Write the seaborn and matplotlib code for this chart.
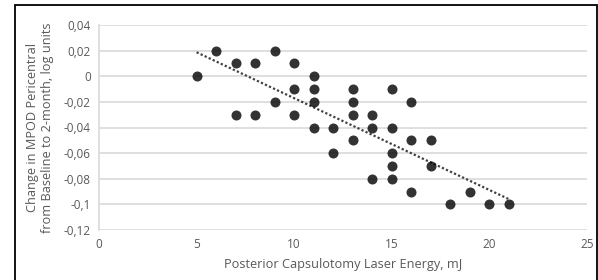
import numpy as np
import pandas as pd
import seaborn as sns
import matplotlib.pyplot as plt
from matplotlib.patches import Rectangle

# laser energy (mJ) and change in MPOD (log units)
energy = [5, 6, 7, 7, 8, 8, 9, 9, 10, 10, 10, 11, 11, 11, 11, 12, 12,
          13, 13, 13, 13, 14, 14, 14, 15, 15, 15, 15, 15, 16, 16, 16,
          17, 17, 18, 19, 20, 21]
mpod_change = [0, 0.02, 0.01, -0.03, 0.01, -0.03, 0.02, -0.02, 0.01, -0.01, -0.03,
               0, -0.01, -0.02, -0.04, -0.04, -0.06,
               -0.01, -0.02, -0.03, -0.05, -0.03, -0.04, -0.08,
               -0.01, -0.04, -0.06, -0.07, -0.08, -0.02, -0.05, -0.09,
               -0.05, -0.07, -0.1, -0.09, -0.1, -0.1]
xticks = [0, 5, 10, 15, 20, 25]
yticks = [0.04, 0.02, 0, -0.02, -0.04, -0.06, -0.08, -0.1, -0.12]
ytick_labels = ["0,04", "0,02", "0", "-0,02", "-0,04", "-0,06", "-0,08", "-0,1", "-0,12"]

df = pd.DataFrame({"energy": energy, "mpod": mpod_change})

sns.set_style("white")
plt.rcParams['font.family'] = ['Open Sans', 'DejaVu Sans']

fig = plt.figure(figsize=(5.98, 2.8), dpi=100)
ax = fig.add_axes([99/598, 1 - 230/280, 488/598, 205/280])

sns.regplot(data=df, x="energy", y="mpod", ci=None, truncate=True, ax=ax,
            scatter_kws={"color": "black", "s": 52, "linewidths": 0, "zorder": 3},
            line_kws={"color": "#404040", "linestyle": (0, (1, 1)), "linewidth": 1.6})

ax.set_xlim(0, 25)
ax.set_ylim(-0.12, 0.04)
ax.set_xticks(xticks)
ax.set_xticklabels([str(t) for t in xticks])
ax.set_yticks(yticks)
ax.set_yticklabels(ytick_labels)
ax.tick_params(axis="both", length=0, labelsize=8.5, colors="#595959", pad=6)
ax.grid(axis="y", color="#d9d9d9", linewidth=1.2)
ax.set_axisbelow(True)
for s in ["top", "right", "bottom"]:
    ax.spines[s].set_visible(False)
ax.spines["left"].set_color("#d9d9d9")
ax.spines["left"].set_linewidth(1.2)

ax.set_xlabel("Posterior Capsulotomy Laser Energy, mJ", fontsize=9.2, color="#595959", labelpad=5)
ax.set_ylabel("Change in MPOD Pericentral\nfrom Baseline to 2-month, log units",
              fontsize=9.2, color="#595959", labelpad=7)

# outer chart border
fig.patches.append(Rectangle((14.5/598, -0.1), 582/598, 1.1 - 5/280, transform=fig.transFigure,
                             fill=False, edgecolor="black", linewidth=1.3))

fig.savefig("out.png", dpi=100)
